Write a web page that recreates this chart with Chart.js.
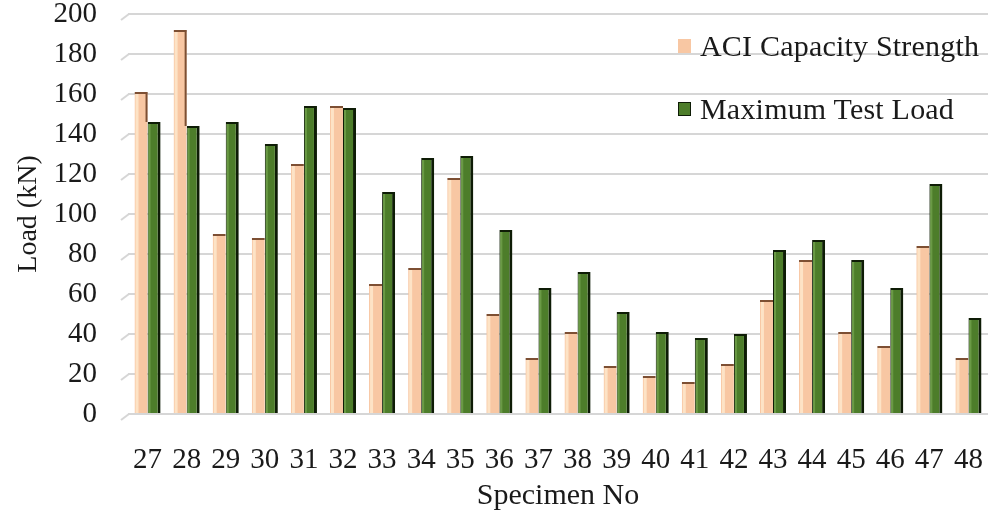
<!DOCTYPE html>
<html>
<head>
<meta charset="utf-8">
<script src="https://cdn.jsdelivr.net/npm/chart.js@4.4.1/dist/chart.umd.min.js"></script>
<style>
  html, body { margin: 0; padding: 0; background: #ffffff; }
  #wrap { position: relative; width: 990px; height: 517px; }
  #c { position: absolute; left: 0; top: 0; }
  .leg { position: absolute; font-family: 'Liberation Serif', 'Times New Roman', serif; font-size: 30px; letter-spacing: 0.2px; color: #1a1a1a; white-space: nowrap; line-height: 1; }
  .leg span.box { position: absolute; width: 13px; height: 14px; }
</style>
</head>
<body>
<div id="wrap">
  <canvas id="c" width="990" height="517"></canvas>
  <div id="legend"></div>
</div>
<script>
// ---- Data ----
const categories = ['27','28','29','30','31','32','33','34','35','36','37','38','39','40','41','42','43','44','45','46','47','48'];
const aciCapacity = [161, 192, 90, 88, 125, 154, 65, 73, 118, 50, 28, 41, 24, 19, 16, 25, 57, 77, 41, 34, 84, 28];
const maxTestLoad = [146, 144, 146, 135, 154, 153, 111, 128, 129, 92, 63, 71, 51, 41, 38, 40, 82, 87, 77, 63, 115, 48];
const seriesNames = ['ACI Capacity Strength', 'Maximum Test Load'];
const yTicks = [0, 20, 40, 60, 80, 100, 120, 140, 160, 180, 200];

const FONT = "'Liberation Serif', 'Times New Roman', serif";
const PEACH = '#f8c7a3';
const PEACH_LIGHT = '#fde3c6';
const PEACH_EDGE = '#7d4f33';
const GREEN = '#4d7d2a';
const GREEN_LIGHT = '#6a9a45';
const GREEN_EDGE = '#0e1c06';
const GRID = '#d6d6d6';

// 3D-ish touches: slanted grid stubs at left, highlights and dark edges on bars
const depthPlugin = {
  id: 'depth',
  beforeDatasetsDraw(chart) {
    const y = chart.scales.y, ctx = chart.ctx, left = chart.chartArea.left;
    ctx.save();
    ctx.strokeStyle = GRID;
    ctx.lineWidth = 2;
    yTicks.forEach(v => {
      const py = y.getPixelForValue(v);
      ctx.beginPath();
      ctx.moveTo(left - 7, py + 6);
      ctx.lineTo(left + 1, py);
      ctx.stroke();
    });
    ctx.restore();
  },
  afterDatasetsDraw(chart) {
    const m0 = chart.getDatasetMeta(0), m1 = chart.getDatasetMeta(1), ctx = chart.ctx;
    ctx.save();
    m0.data.forEach((bar, i) => {
      const g = m1.data[i];
      const l = bar.x - bar.width / 2;
      ctx.fillStyle = PEACH_LIGHT;
      ctx.fillRect(l + 1, bar.y + 2, 3, bar.base - bar.y - 2);
      if (bar.y < g.y) {
        const right = bar.x + bar.width / 2;
        ctx.fillStyle = PEACH_EDGE;
        ctx.fillRect(right - 2, bar.y, 2, g.y - bar.y);
      }
    });
    m1.data.forEach(bar => {
      const l = bar.x - bar.width / 2;
      ctx.fillStyle = GREEN_LIGHT;
      ctx.fillRect(l + 1, bar.y + 2, 2, bar.base - bar.y - 2);
    });
    ctx.restore();
  }
};

new Chart(document.getElementById('c'), {
  type: 'bar',
  data: {
    labels: categories,
    datasets: [
      {
        label: seriesNames[0],
        data: aciCapacity,
        backgroundColor: PEACH,
        borderColor: PEACH_EDGE,
        borderWidth: { top: 2, right: 0, left: 0, bottom: 0 },
        borderSkipped: 'bottom',
        barPercentage: 1.0,
        categoryPercentage: 0.667
      },
      {
        label: seriesNames[1],
        data: maxTestLoad,
        backgroundColor: GREEN,
        borderColor: GREEN_EDGE,
        borderWidth: { top: 2, right: 3, left: 1, bottom: 0 },
        borderSkipped: 'bottom',
        barPercentage: 1.0,
        categoryPercentage: 0.667
      }
    ]
  },
  options: {
    responsive: false,
    animation: false,
    devicePixelRatio: 1,
    layout: { padding: { left: 8, right: 2, top: 14, bottom: 0 } },
    plugins: {
      legend: { display: false },
      tooltip: { enabled: false }
    },
    scales: {
      x: {
        grid: { display: false, drawTicks: false },
        border: { display: false },
        ticks: { font: { family: FONT, size: 29 }, color: '#1a1a1a', padding: 29, maxRotation: 0, autoSkip: false },
        title: { display: true, text: 'Specimen No', font: { family: FONT, size: 30 }, color: '#1a1a1a', padding: { top: 0, bottom: 3 } },
        afterFit(scale) { scale.height = 103; scale.paddingLeft = 0; scale.paddingRight = 0; }
      },
      y: {
        min: 0,
        max: 200,
        afterBuildTicks(scale) { scale.ticks = yTicks.map(v => ({ value: v })); },
        grid: { color: GRID, lineWidth: 2, drawTicks: false },
        border: { display: false },
        ticks: { font: { family: FONT, size: 29 }, color: '#1a1a1a', padding: 31 },
        title: { display: true, text: 'Load (kN)', font: { family: FONT, size: 28 }, color: '#1a1a1a', padding: { top: 4, bottom: 4 } },
        afterFit(scale) { scale.width = 120; scale.paddingTop = 0; scale.paddingBottom = 0; }
      }
    }
  },
  plugins: [depthPlugin]
});

// HTML legend built from the series names/colours
const legend = document.getElementById('legend');
const legendItems = [
  { name: seriesNames[0], color: PEACH, edge: PEACH, top: 31 },
  { name: seriesNames[1], color: GREEN, edge: GREEN_EDGE, top: 94 }
];
legendItems.forEach(it => {
  const d = document.createElement('div');
  d.className = 'leg';
  d.style.left = '678px';
  d.style.top = it.top + 'px';
  const b = document.createElement('span');
  b.className = 'box';
  b.style.left = '0px';
  b.style.top = '8px';
  b.style.background = it.color;
  b.style.boxSizing = 'border-box';
  b.style.border = '1px solid ' + it.edge;
  d.appendChild(b);
  const t = document.createElement('span');
  t.style.marginLeft = '22px';
  t.textContent = it.name;
  d.appendChild(t);
  legend.appendChild(d);
});
</script>
</body>
</html>
